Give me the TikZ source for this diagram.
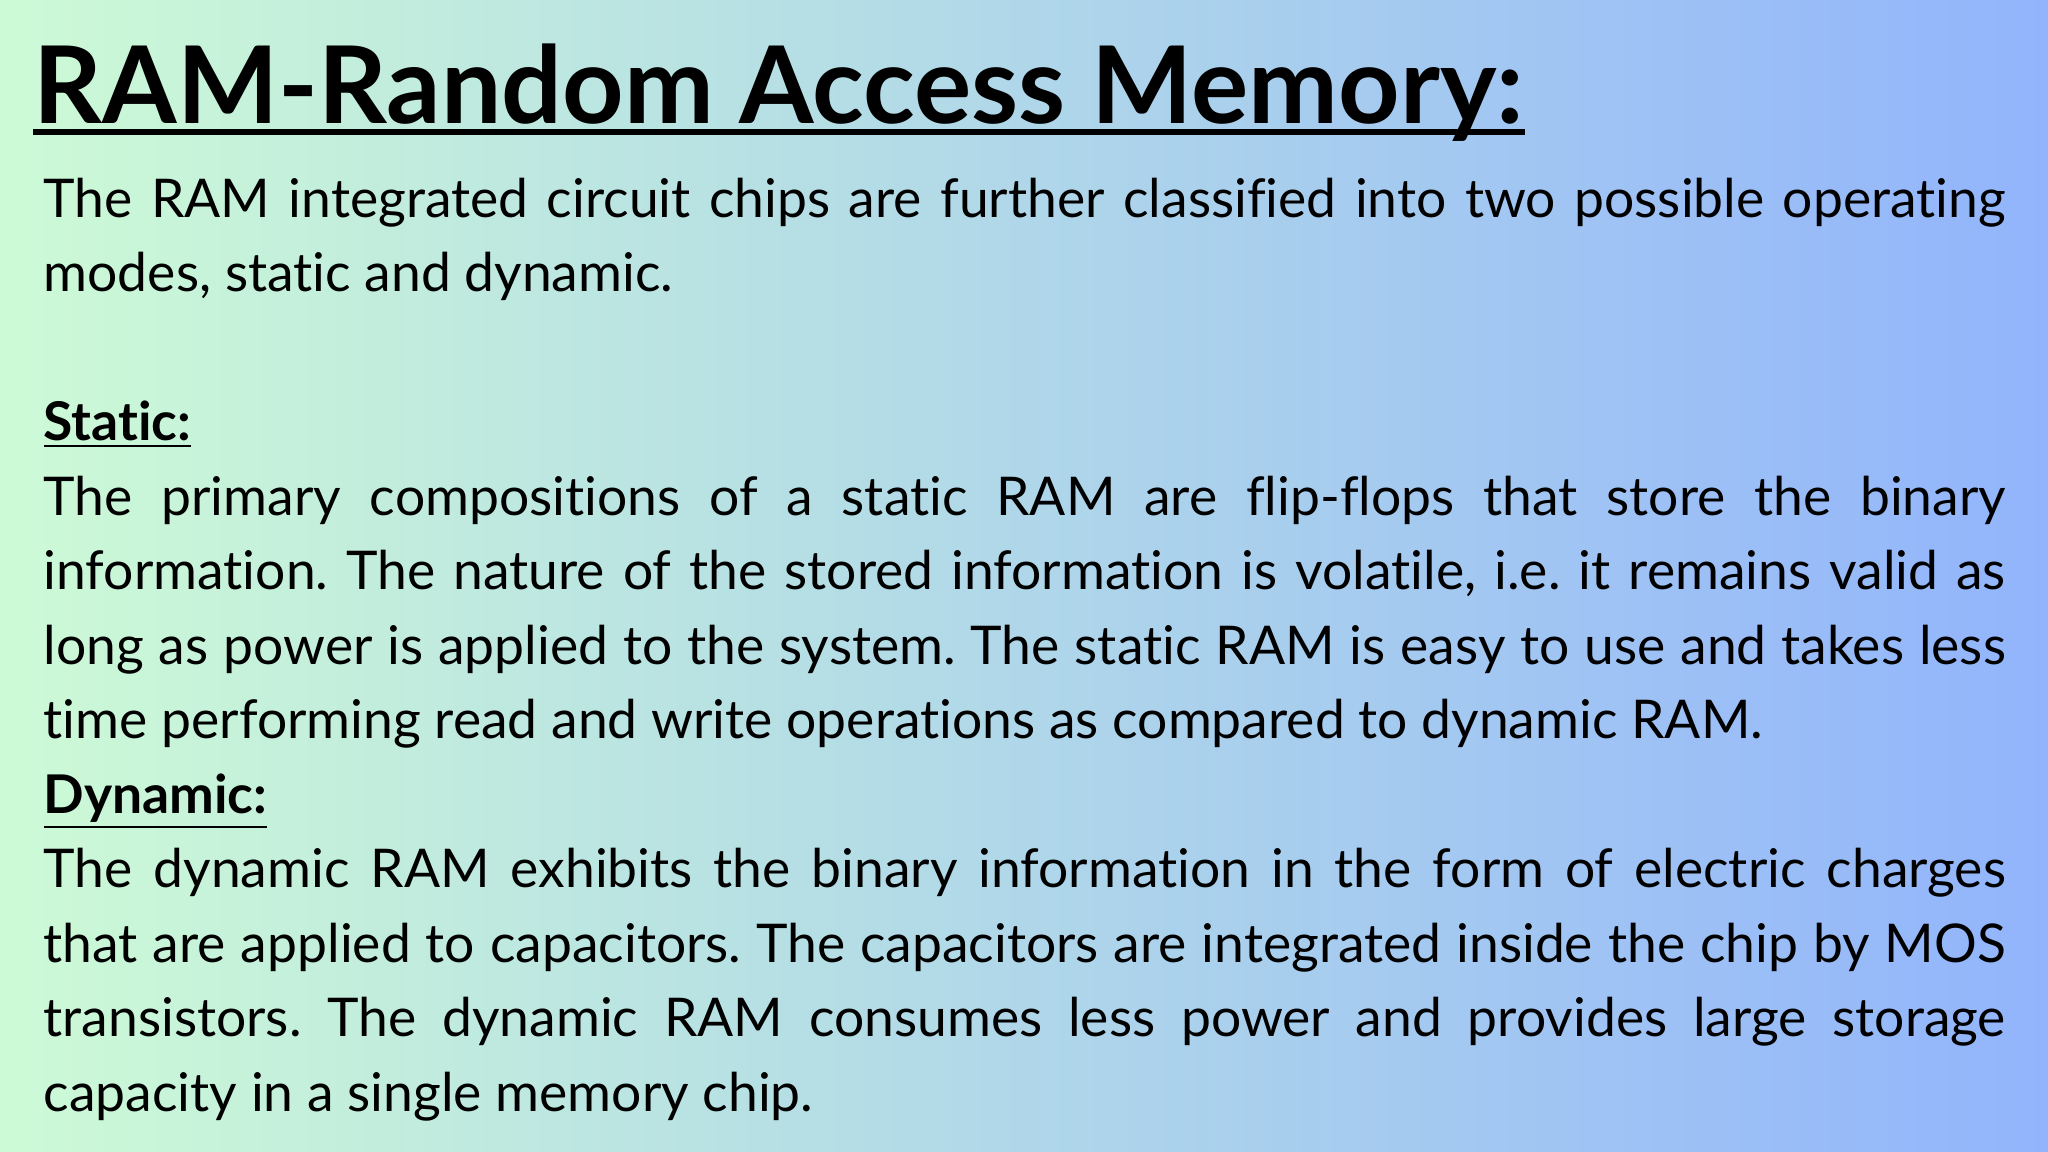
\documentclass[tikz,border=0pt]{standalone}
\usepackage{fontspec}
\setmainfont{Lato}[Ligatures={NoCommon,NoDiscretionary,NoContextual}]
\frenchspacing
\begin{document}
\begin{tikzpicture}
\useasboundingbox (0,0) rectangle (20.48,11.52);
\shade[left color={rgb,255:red,205;green,250;blue,214}, right color={rgb,255:red,146;green,180;blue,252}] (0,0) rectangle (20.48,11.52);
\node[anchor=base west, inner sep=0, font=\fontsize{30.5}{34}\selectfont\bfseries] (title) at (0.33,10.28) {RAM-Random Access Memory:};
\draw[line width=0.065cm] ([yshift=-0.08cm]title.base west) -- ([yshift=-0.08cm]title.base east);
\node[anchor=north west, inner sep=0, text width=19.62cm, align=justify, font=\fontsize{15.2}{21.2}\selectfont] (body) at (0.43,9.75) {%
The RAM integrated circuit chips are further classified into two possible operating\linebreak modes, static and dynamic.\par
\mbox{}\par
\textbf{\underline{Static:}}\par
The primary compositions of a static RAM are flip-flops that store the binary\linebreak information. The nature of the stored information is volatile, i.e. it remains valid as\linebreak long as power is applied to the system. The static RAM is easy to use and takes less\linebreak time performing read and write operations as compared to dynamic RAM.\par
\textbf{\underline{Dynamic:}}\par
The dynamic RAM exhibits the binary information in the form of electric charges\linebreak that are applied to capacitors. The capacitors are integrated inside the chip by MOS\linebreak transistors. The dynamic RAM consumes less power and provides large storage\linebreak capacity in a single memory chip.\par};
\end{tikzpicture}
\end{document}
